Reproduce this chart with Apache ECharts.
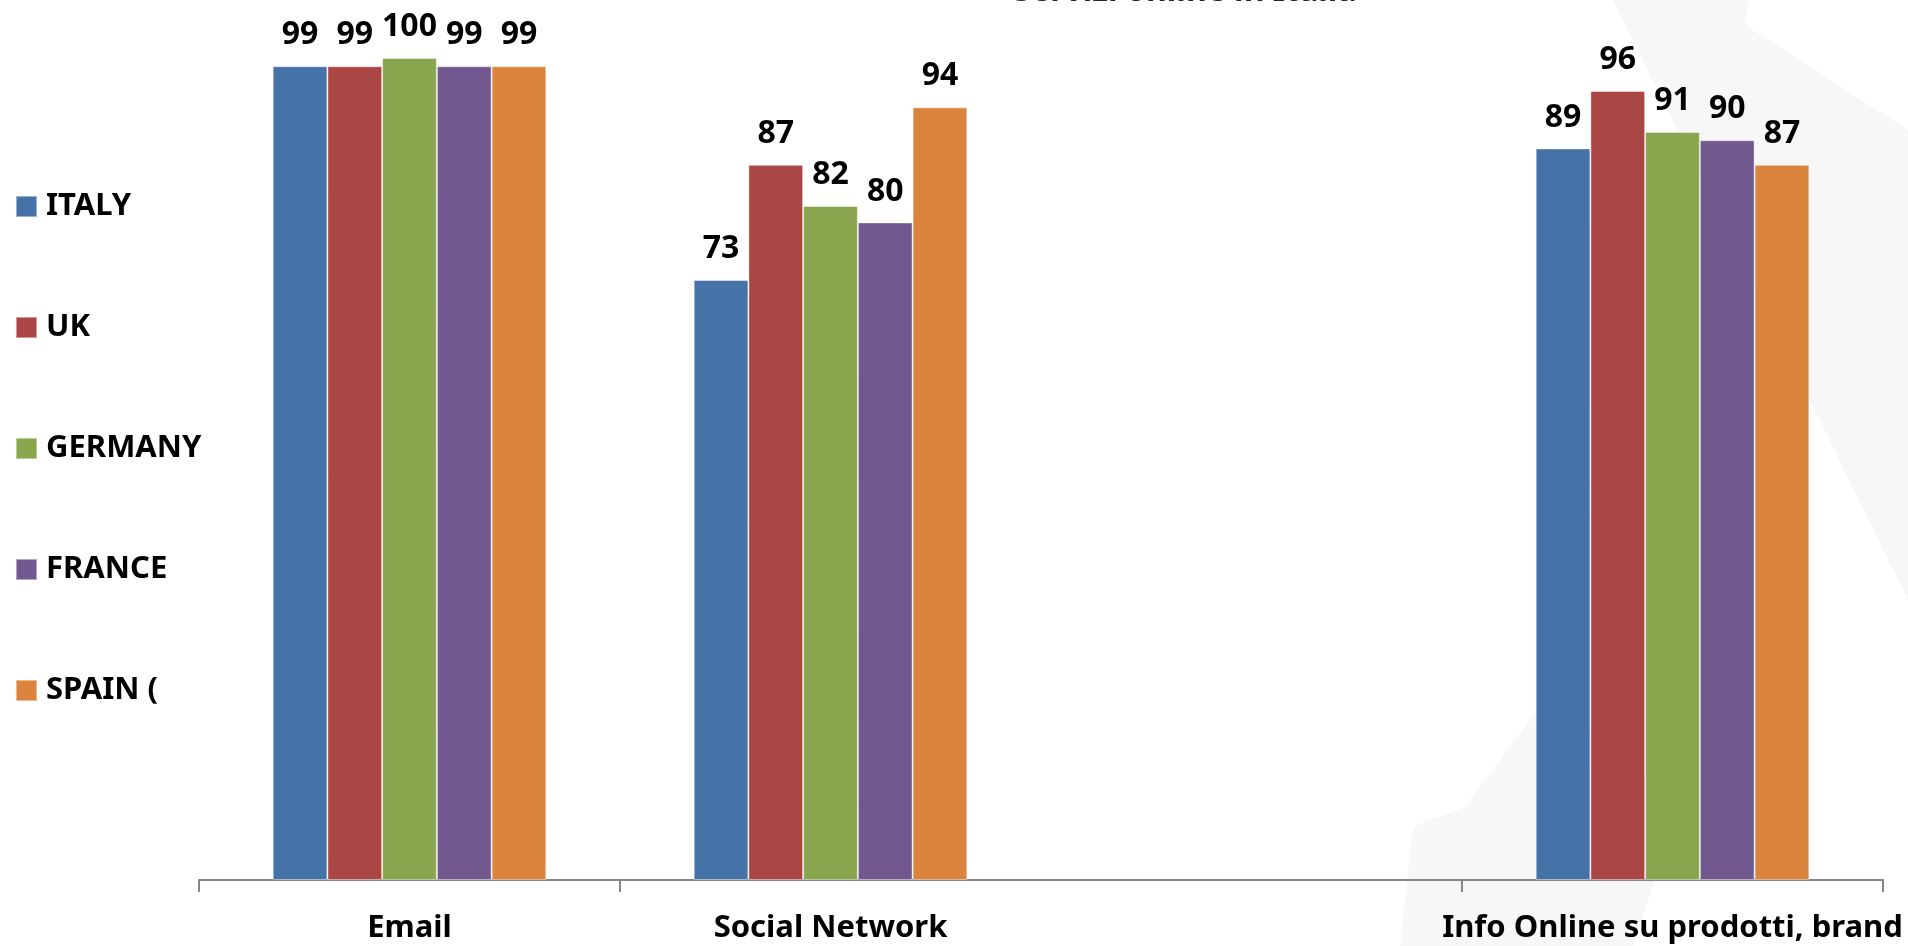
<!DOCTYPE html>
<html>
<head>
<meta charset="utf-8">
<title>Servizi online</title>
<script src="https://cdn.jsdelivr.net/npm/echarts@6/dist/echarts.min.js"></script>
<style>
  html, body { margin: 0; padding: 0; background: #fff; }
  #chart { width: 1908px; height: 946px; }
</style>
</head>
<body>
<div id="chart"></div>
<script>
// categories (the third one is blank in the source picture)
const categories = ['Email', 'Social Network', '', 'Info Online su prodotti, brand']
const countries = ['ITALY', 'UK', 'GERMANY', 'FRANCE', 'SPAIN (']
const colors = ['#4572a7', '#aa4643', '#89a54e', '#71588f', '#db843d']

const italy = [99, 73, null, 89]
const uk = [99, 87, null, 96]
const germany = [100, 82, null, 91]
const france = [99, 80, null, 90]
const spain = [99, 94, null, 87]

const seriesData = [italy, uk, germany, france, spain]
const font = 'Noto Sans'

const chart = echarts.init(document.getElementById('chart'))

chart.setOption({
  backgroundColor: '#ffffff',
  animation: false,
  title: {
    text: 'Servizi online in Italia',
    left: 1180,
    top: -29,
    textAlign: 'center',
    textStyle: { fontFamily: font, fontWeight: 'bold', fontSize: 32, color: '#262626' }
  },
  // faint decorative shapes of the slide background
  graphic: [
    {
      type: 'polygon',
      z: -10,
      shape: { points: [[1613, 0], [1748, 0], [1745, 25], [1908, 130], [1908, 600]] },
      style: { fill: '#f7f7f7' }
    },
    {
      type: 'polygon',
      z: -10,
      shape: { points: [[1545, 700], [1465, 807], [1413, 827], [1400, 946], [1633, 946], [1680, 800]] },
      style: { fill: '#f7f7f7' }
    }
  ],
  legend: {
    orient: 'vertical',
    left: 10,
    top: 186,
    itemWidth: 21,
    itemHeight: 21,
    itemGap: 90,
    icon: 'rect',
    data: countries,
    textStyle: {
      fontFamily: font,
      fontWeight: 'bold',
      fontSize: 31,
      lineHeight: 30,
      color: '#000',
      padding: [0, 0, 0, 4]
    }
  },
  grid: {
    left: 199,
    right: 25,
    top: 58,
    bottom: 66
  },
  xAxis: {
    type: 'category',
    data: categories,
    axisLine: { show: true, lineStyle: { color: '#868686', width: 2 } },
    axisTick: {
      show: true,
      inside: false,
      alignWithLabel: false,
      length: 12,
      lineStyle: { color: '#868686', width: 2 },
      interval: function (index, value) {
        return value !== ''
      }
    },
    axisLabel: {
      interval: 0,
      margin: 33,
      fontFamily: font,
      fontWeight: 'bold',
      fontSize: 31,
      lineHeight: 30,
      color: '#000'
    }
  },
  yAxis: {
    type: 'value',
    min: 0,
    max: 100,
    show: false,
    splitLine: { show: false }
  },
  series: countries.map((name, i) => ({
    name: name,
    type: 'bar',
    data: seriesData[i],
    barGap: 0,
    barCategoryGap: '35%',
    itemStyle: {
      color: colors[i],
      borderColor: 'rgba(255,255,255,0.45)',
      borderWidth: 1
    },
    label: {
      show: true,
      position: 'top',
      distance: 15,
      fontFamily: font,
      fontWeight: 'bold',
      fontSize: 32,
      lineHeight: 32,
      color: '#000'
    }
  }))
})
</script>
</body>
</html>
